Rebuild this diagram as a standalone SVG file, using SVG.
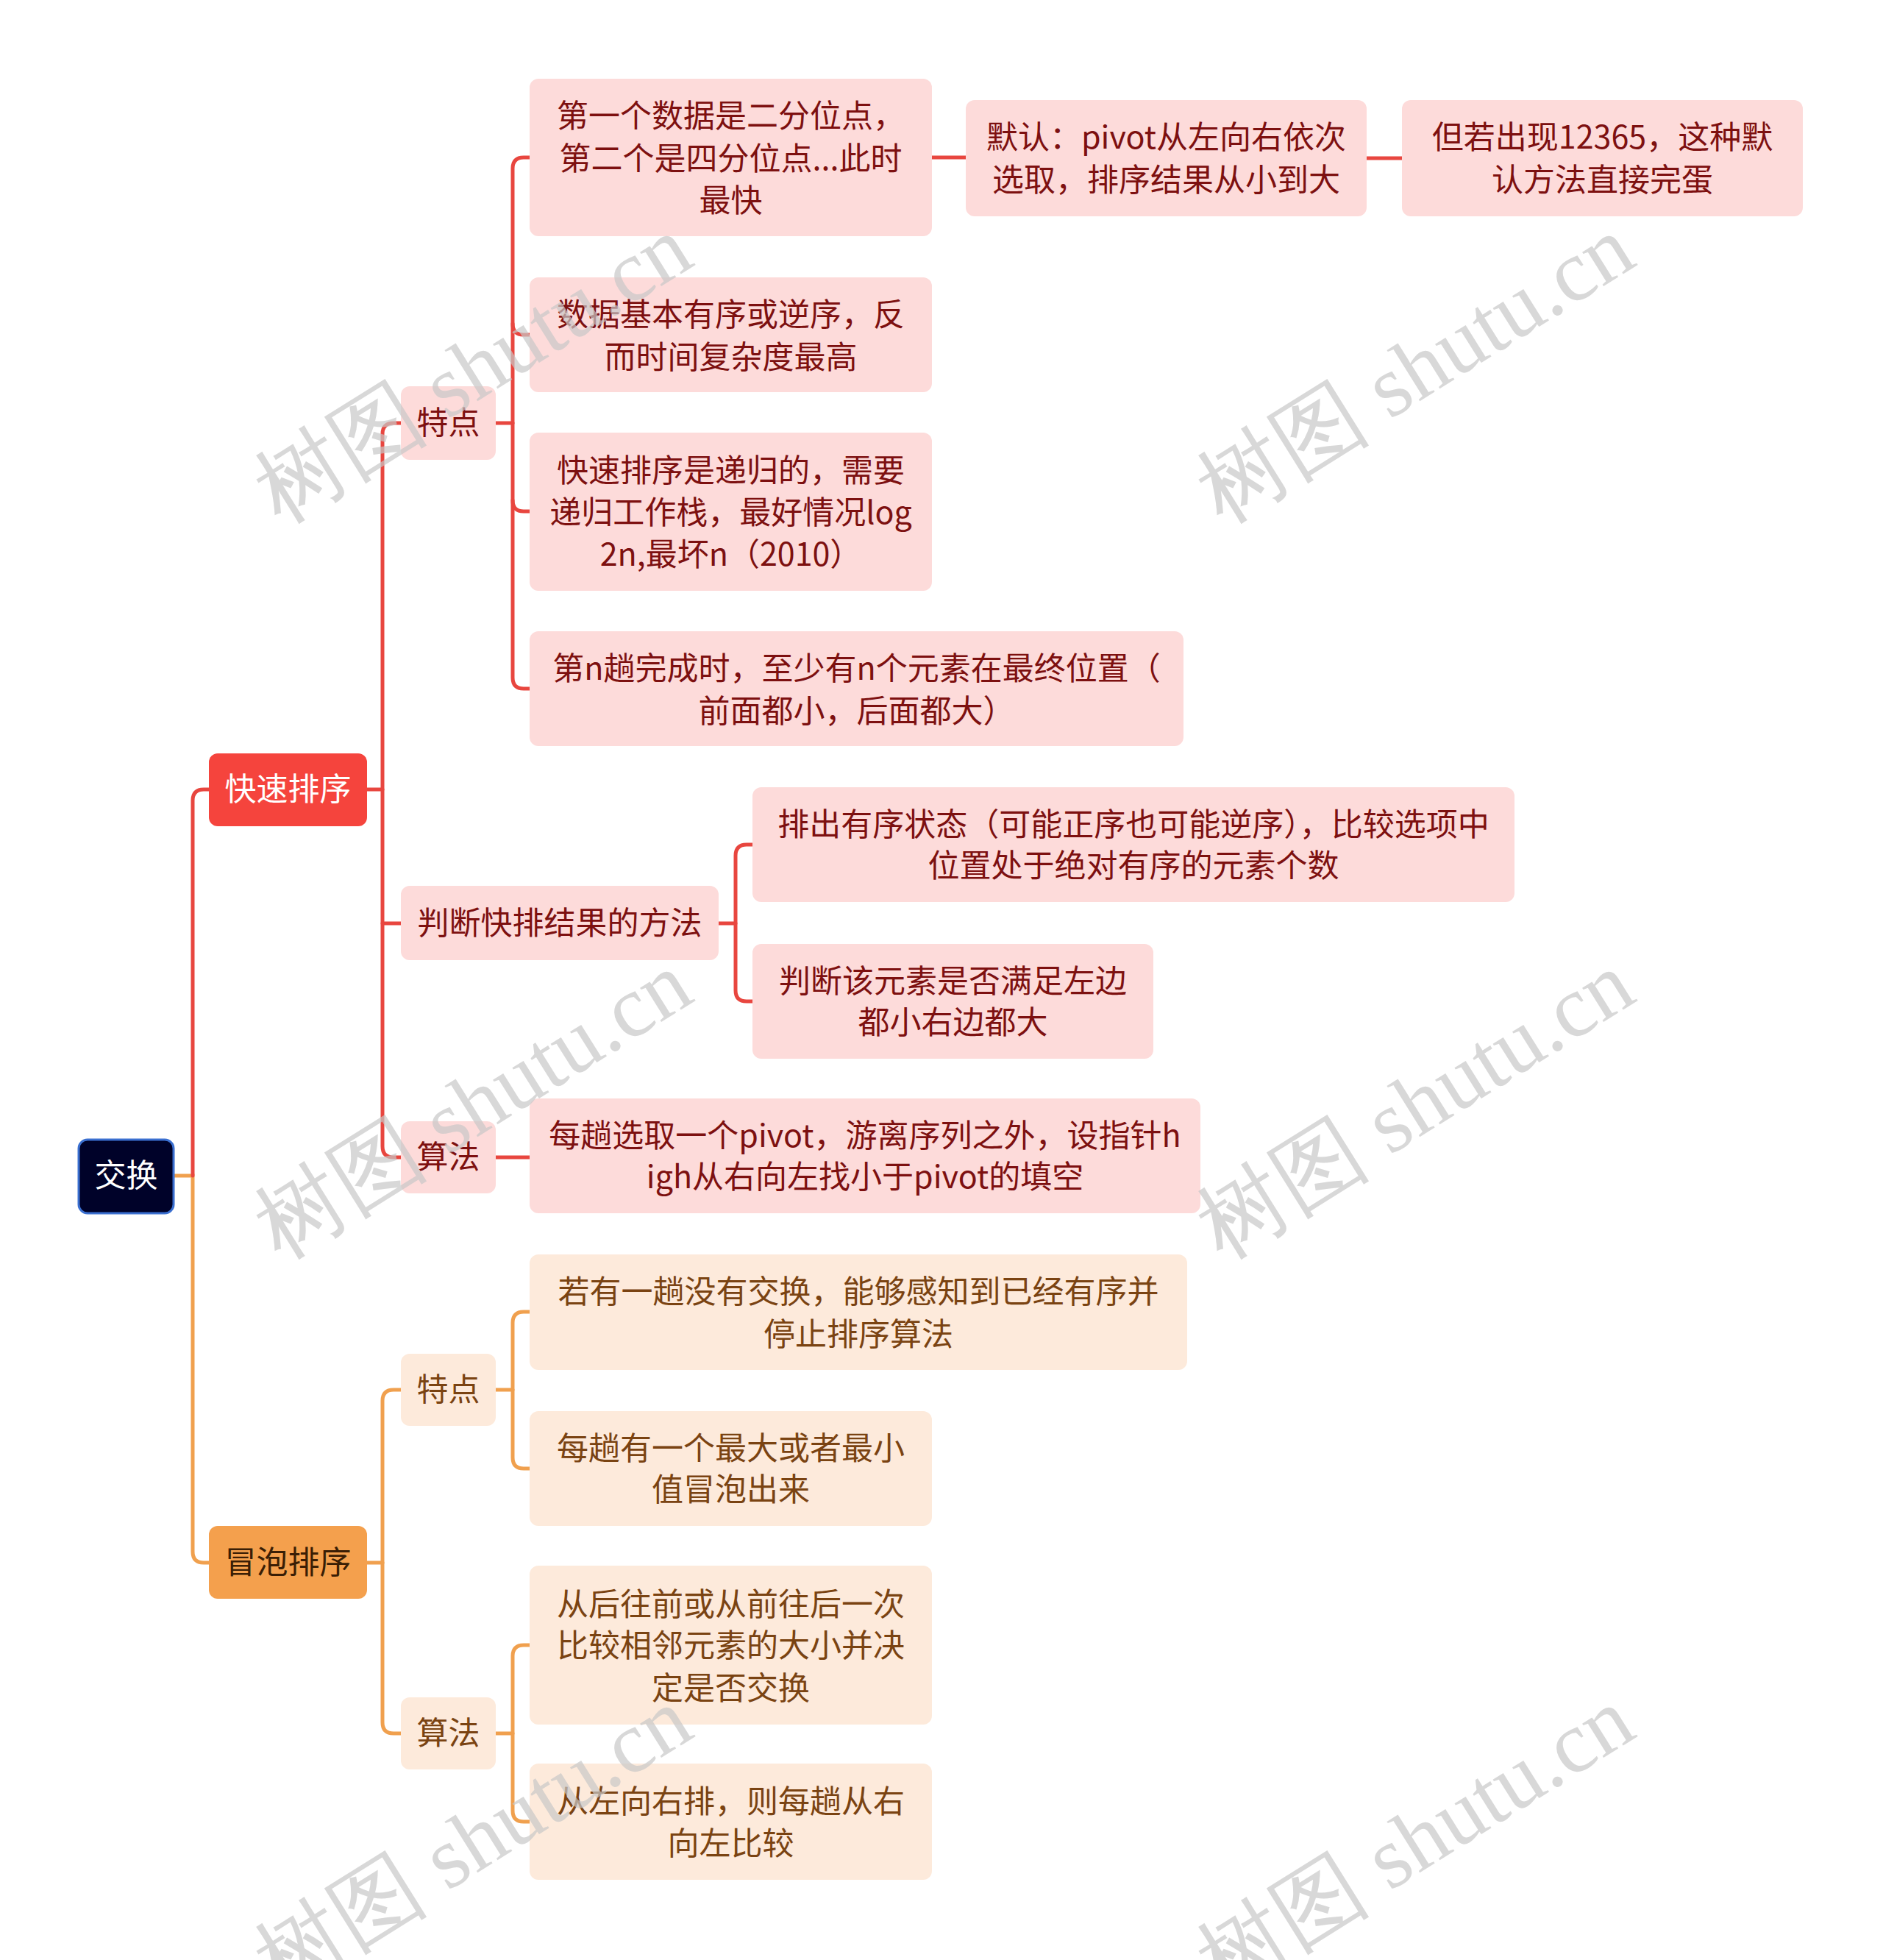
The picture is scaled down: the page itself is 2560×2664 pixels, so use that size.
<svg xmlns="http://www.w3.org/2000/svg" width="2560" height="2664" viewBox="0 0 2560 2664">
<style>
text{font-family:"Noto Sans CJK SC","Noto Sans",sans-serif;font-size:43px;text-anchor:middle}
.q rect{fill:#fddbda}
.q text{fill:#7d1010}
.b rect{fill:#fdeadb}
.b text{fill:#7a4312}
.lr{fill:none;stroke:#e8463f;stroke-width:5;stroke-linecap:round}
.lo{fill:none;stroke:#f0a04e;stroke-width:5;stroke-linecap:round}
.wm{font-family:"Liberation Serif","DejaVu Serif",serif;font-size:119px;fill:#c8c8c8;fill-opacity:0.7;text-anchor:middle}
</style>
<rect width="2560" height="2664" fill="#ffffff"/>
<g id="connectors">
<path class="lo" d="M236,1598 H262 V2109 Q262,2124 277,2124 H284"/>
<path class="lr" d="M262,1598 V1088 Q262,1073 277,1073 H284"/>
<path class="lr" d="M499,1073 H520"/>
<path class="lr" d="M545,575 H535 Q520,575 520,590 V1558 Q520,1573 535,1573 H545"/>
<path class="lr" d="M520,1255 H545"/>
<path class="lr" d="M674,575 H697"/>
<path class="lr" d="M720,214 H712 Q697,214 697,229 V921 Q697,936 712,936 H720"/>
<path class="lr" d="M697,440 Q697,455 712,455 H720"/>
<path class="lr" d="M697,680 Q697,695 712,695 H720"/>
<path class="lr" d="M977,1255 H1000"/>
<path class="lr" d="M1023,1148 H1015 Q1000,1148 1000,1163 V1346 Q1000,1361 1015,1361 H1023"/>
<path class="lr" d="M674,1573 H720"/>
<path class="lr" d="M1267,214 H1313"/>
<path class="lr" d="M1858,215 H1906"/>
<path class="lo" d="M499,2124 H520"/>
<path class="lo" d="M545,1889 H535 Q520,1889 520,1904 V2341 Q520,2356 535,2356 H545"/>
<path class="lo" d="M674,1889 H697"/>
<path class="lo" d="M720,1783 H712 Q697,1783 697,1798 V1981 Q697,1996 712,1996 H720"/>
<path class="lo" d="M674,2356 H697"/>
<path class="lo" d="M720,2236 H712 Q697,2236 697,2251 V2461 Q697,2476 712,2476 H720"/>
</g>
<g id="root"><rect x="107" y="1549" width="129" height="100" rx="12" fill="#000229" stroke="#3a6fd0" stroke-width="3"/><text x="171.5" y="1613" fill="#ffffff">交换</text></g>
<g id="quick"><rect x="284" y="1024" width="215" height="99" rx="12" fill="#f5443d"/><text x="391.5" y="1088" fill="#ffffff">快速排序</text></g>
<g id="bubble"><rect x="284" y="2074" width="215" height="99" rx="12" fill="#f4a04d"/><text x="391.5" y="2139" fill="#3a1e05">冒泡排序</text></g>
<g class="q">
<g id="q-tedian"><rect x="545" y="525" width="129" height="100" rx="12"/><text x="609.5" y="590">特点</text></g>
<g id="q-panduan"><rect x="545" y="1204" width="432" height="101" rx="12"/><text x="761" y="1270">判断快排结果的方法</text></g>
<g id="q-suanfa"><rect x="545" y="1524" width="129" height="98" rx="12"/><text x="609.5" y="1588">算法</text></g>
<g id="q-l1"><rect x="720" y="107" width="547" height="214" rx="12"/><text x="993.5" y="173">第一个数据是二分位点，</text><text x="993.5" y="231">第二个是四分位点...此时</text><text x="993.5" y="288">最快</text></g>
<g id="q-l1a"><rect x="1313" y="136" width="545" height="158" rx="12"/><text x="1585.5" y="202">默认：pivot从左向右依次</text><text x="1585.5" y="260">选取，排序结果从小到大</text></g>
<g id="q-l1b"><rect x="1906" y="136" width="545" height="158" rx="12"/><text x="2178.5" y="202">但若出现12365，这种默</text><text x="2178.5" y="260">认方法直接完蛋</text></g>
<g id="q-l2"><rect x="720" y="377" width="547" height="156" rx="12"/><text x="993.5" y="443">数据基本有序或逆序，反</text><text x="993.5" y="501">而时间复杂度最高</text></g>
<g id="q-l3"><rect x="720" y="588" width="547" height="215" rx="12"/><text x="993.5" y="655">快速排序是递归的，需要</text><text x="993.5" y="712">递归工作栈，最好情况log</text><text x="993.5" y="769">2n,最坏n（2010）</text></g>
<g id="q-l4"><rect x="720" y="858" width="889" height="156" rx="12"/><text x="1164.5" y="924">第n趟完成时，至少有n个元素在最终位置（</text><text x="1164.5" y="982">前面都小，后面都大）</text></g>
<g id="q-p1"><rect x="1023" y="1070" width="1036" height="156" rx="12"/><text x="1541" y="1136">排出有序状态（可能正序也可能逆序），比较选项中</text><text x="1541" y="1192">位置处于绝对有序的元素个数</text></g>
<g id="q-p2"><rect x="1023" y="1283" width="545" height="156" rx="12"/><text x="1295.5" y="1349">判断该元素是否满足左边</text><text x="1295.5" y="1405">都小右边都大</text></g>
<g id="q-s1"><rect x="720" y="1493" width="912" height="156" rx="12"/><text x="1176" y="1559">每趟选取一个pivot，游离序列之外，设指针h</text><text x="1176" y="1615">igh从右向左找小于pivot的填空</text></g>
</g>
<g class="b">
<g id="b-tedian"><rect x="545" y="1840" width="129" height="98" rx="12"/><text x="609.5" y="1904">特点</text></g>
<g id="b-suanfa"><rect x="545" y="2307" width="129" height="98" rx="12"/><text x="609.5" y="2371">算法</text></g>
<g id="b-l1"><rect x="720" y="1705" width="894" height="157" rx="12"/><text x="1167" y="1771">若有一趟没有交换，能够感知到已经有序并</text><text x="1167" y="1829">停止排序算法</text></g>
<g id="b-l2"><rect x="720" y="1918" width="547" height="156" rx="12"/><text x="993.5" y="1984">每趟有一个最大或者最小</text><text x="993.5" y="2040">值冒泡出来</text></g>
<g id="b-l3"><rect x="720" y="2128" width="547" height="216" rx="12"/><text x="993.5" y="2196">从后往前或从前往后一次</text><text x="993.5" y="2252">比较相邻元素的大小并决</text><text x="993.5" y="2310">定是否交换</text></g>
<g id="b-l4"><rect x="720" y="2397" width="547" height="158" rx="12"/><text x="993.5" y="2464">从左向右排，则每趟从右</text><text x="993.5" y="2521">向左比较</text></g>
</g>
<g id="watermark">
<text class="wm" transform="translate(664,536) rotate(-32)">树图 shutu.cn</text>
<text class="wm" transform="translate(1945,536) rotate(-32)">树图 shutu.cn</text>
<text class="wm" transform="translate(664,1536) rotate(-32)">树图 shutu.cn</text>
<text class="wm" transform="translate(1945,1536) rotate(-32)">树图 shutu.cn</text>
<text class="wm" transform="translate(664,2536) rotate(-32)">树图 shutu.cn</text>
<text class="wm" transform="translate(1945,2536) rotate(-32)">树图 shutu.cn</text>
</g>
</svg>
